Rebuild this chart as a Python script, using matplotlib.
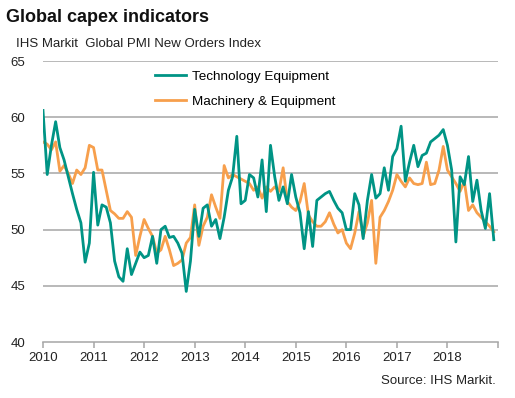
import numpy as np
import matplotlib
matplotlib.use("Agg")
import matplotlib.pyplot as plt

plt.rcParams['font.family'] = ['Liberation Sans', 'DejaVu Sans']

# Monthly index values, Jan 2010 - Dec 2018
tecnologia = [60.6, 54.9, 57.5, 59.6, 57.3, 56.2, 54.7, 53.2, 51.8, 50.6, 47.1, 48.8,
              55.1, 50.4, 52.2, 52.0, 50.6, 47.2, 45.8, 45.4, 48.3, 46.0, 47.0, 48.0,
              47.5, 47.7, 49.4, 47.0, 50.0, 50.3, 49.3, 49.4, 48.8, 47.9, 44.5, 47.2,
              51.8, 49.4, 51.9, 52.2, 50.3, 50.9, 49.2, 51.1, 53.5, 54.7, 58.3, 52.3,
              52.6, 54.9, 54.6, 52.9, 56.2, 51.6, 57.5, 54.7, 52.6, 53.8, 52.3, 54.9,
              52.9, 51.5, 48.3, 51.6, 48.5, 52.6, 52.9, 53.2, 53.4, 52.6, 51.9, 51.5,
              50.0, 50.0, 53.2, 52.2, 49.2, 52.6, 54.9, 52.8, 53.2, 55.5, 53.5, 56.5,
              57.2, 59.2, 54.3, 56.0, 57.5, 55.6, 56.6, 56.8, 57.8, 58.1, 58.4, 58.9,
              57.5, 55.3, 48.9, 54.7, 54.0, 56.5, 52.5, 54.4, 51.7, 50.1, 53.2, 49.1]

maquinaria = [57.8, 57.6, 57.1, 57.8, 55.2, 55.7, 55.0, 54.1, 55.3, 54.9, 55.5, 57.5,
              57.3, 55.3, 55.3, 53.5, 51.7, 51.4, 51.0, 51.0, 51.6, 51.1, 47.7, 49.4,
              50.9, 50.1, 49.4, 47.9, 48.2, 49.4, 48.2, 46.8, 47.0, 47.3, 48.8, 49.3,
              52.2, 48.6, 50.3, 51.1, 53.1, 52.0, 51.0, 55.7, 54.6, 54.9, 54.7, 54.5,
              54.3, 54.1, 53.5, 53.8, 52.8, 53.8, 53.4, 53.8, 53.4, 55.5, 52.5, 52.0,
              51.7, 52.5, 54.1, 51.3, 50.7, 50.3, 50.3, 50.7, 51.5, 50.5, 49.7, 50.0,
              48.8, 48.3, 49.7, 51.6, 49.4, 50.6, 52.6, 47.0, 51.1, 51.7, 52.5, 53.5,
              54.9, 54.3, 53.8, 54.6, 54.1, 54.0, 54.1, 56.0, 54.0, 54.1, 55.3, 57.4,
              55.3, 54.7, 54.1, 53.4, 54.3, 51.7, 52.2, 51.5, 51.1, 50.7, 50.3, 49.8]

anios = list(range(2010, 2019))
niveles = [45, 50, 55, 60, 65]

fechas = 2010 + np.arange(len(tecnologia)) / 12.0

fig = plt.figure(figsize=(5.15, 3.98), dpi=100)
ax = fig.add_axes([0.0835, 0.1407, 0.8835, 0.706])

# lineas de la cuadricula
for n in niveles:
    ax.axhline(n, color='#a6a6a6', lw=1.1, zorder=1)

ax.plot(fechas, tecnologia, color='#009485', lw=2.0, label='Technology Equipment', zorder=3)
ax.plot(fechas, maquinaria, color='#f79f4c', lw=2.0, label='Machinery & Equipment', zorder=2)

ax.set_xlim(2010, 2019)
ax.set_ylim(40, 65)
ax.set_yticks([40] + niveles)
ax.set_xticks(anios + [2019])
ax.set_xticklabels([str(a) for a in anios] + [''])

for s in ['top', 'right', 'left']:
    ax.spines[s].set_visible(False)
ax.spines['bottom'].set_color('#a6a6a6')
ax.spines['bottom'].set_linewidth(1.1)
ax.tick_params(axis='y', length=0, pad=13, labelsize=9.5, labelcolor='#222222')
ax.tick_params(axis='x', length=4, color='#a6a6a6', width=1.1, pad=3,
               labelsize=9.5, labelcolor='#222222')

leg = ax.legend(loc='upper left', bbox_to_anchor=(0.22, 1.01), frameon=False,
                fontsize=9.7, handlelength=2.3, handletextpad=0.4,
                labelspacing=0.95)

fig.text(0.012, 0.945, 'Global capex indicators', fontsize=13, fontweight='bold',
         color='#111111')
fig.text(0.031, 0.883, 'IHS Markit  Global PMI New Orders Index', fontsize=9.5,
         color='#222222')
fig.text(0.962, 0.035, 'Source: IHS Markit.', fontsize=9.5, ha='right',
         color='#222222')

fig.savefig('out.png', dpi=100)
